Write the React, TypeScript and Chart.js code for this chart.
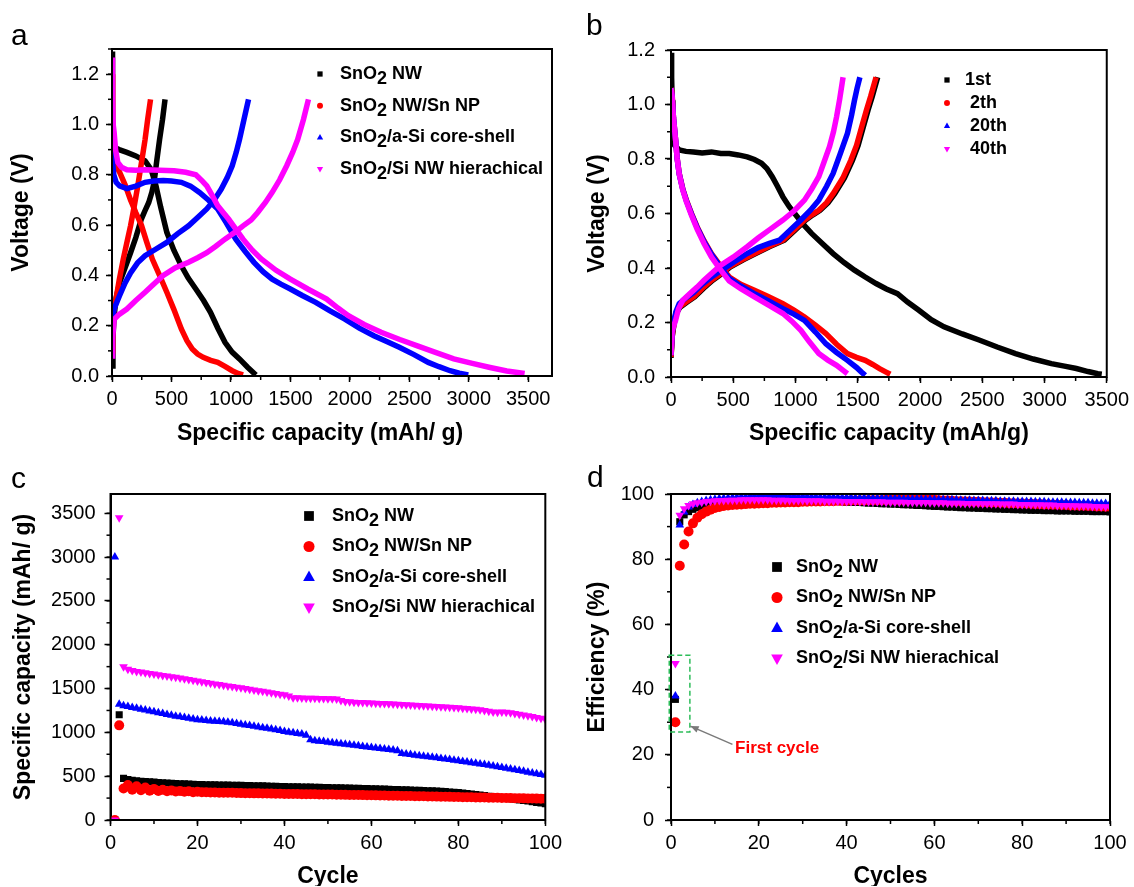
import React, { useEffect, useRef } from 'react';
import { Chart, registerables } from 'chart.js';

Chart.register(...registerables);

const FONT = "'Liberation Sans', Arial, Helvetica, sans-serif";
const BLACK = '#000000';
const RED = '#ff0000';
const BLUE = '#0000ff';
const MAGENTA = '#ff00ff';

type Pair = [number, number];

// ---------- Panel a : voltage profiles (x = mAh/g, y = V) ----------
const aNwDischarge: Pair[] = [[0,1.29],[3,1.1],[6,0.95],[12,0.91],[60,0.9],[125,0.889],[200,0.875],[278,0.855],[330,0.82],[370,0.756],[410,0.67],[461,0.571],[520,0.5],[583,0.438],[640,0.39],[705,0.346],[770,0.3],[828,0.253],[890,0.19],[950,0.134],[1010,0.095],[1072,0.068],[1140,0.035],[1210,0.004]];
const aNwCharge: Pair[] = [[2,0.04],[8,0.15],[18,0.24],[35,0.31],[64,0.372],[110,0.43],[156,0.49],[200,0.55],[247,0.624],[280,0.66],[309,0.69],[335,0.73],[354,0.77],[375,0.85],[400,0.94],[425,1.02],[446,1.1]];
const aNpDischarge: Pair[] = [[0,1.2],[3,1.0],[8,0.87],[30,0.84],[64,0.81],[110,0.76],[156,0.7],[200,0.65],[247,0.6],[290,0.535],[339,0.465],[400,0.4],[461,0.333],[520,0.265],[583,0.187],[630,0.14],[675,0.107],[720,0.087],[767,0.074],[830,0.062],[889,0.054],[950,0.038],[1011,0.021],[1060,0.01],[1102,0.004]];
const aNpCharge: Pair[] = [[2,0.1],[6,0.2],[15,0.26],[34,0.306],[60,0.38],[95,0.465],[125,0.53],[156,0.597],[185,0.67],[217,0.756],[245,0.84],[278,0.94],[300,1.02],[324,1.1]];
const aCsDischarge: Pair[] = [[0,0.9],[5,0.85],[15,0.8],[35,0.77],[64,0.756],[125,0.745],[200,0.755],[278,0.77],[350,0.775],[431,0.777],[500,0.775],[583,0.77],[660,0.755],[736,0.73],[810,0.7],[889,0.664],[960,0.61],[1041,0.544],[1120,0.495],[1194,0.452],[1270,0.415],[1347,0.385],[1420,0.365],[1500,0.346],[1600,0.32],[1713,0.293],[1830,0.26],[1958,0.226],[2080,0.19],[2202,0.16],[2310,0.137],[2416,0.114],[2540,0.085],[2660,0.054],[2750,0.037],[2843,0.021],[2920,0.011],[2996,0.004]];
const aCsCharge: Pair[] = [[0,0.22],[20,0.27],[64,0.32],[110,0.37],[156,0.41],[215,0.45],[278,0.478],[370,0.505],[461,0.531],[550,0.565],[644,0.597],[720,0.63],[797,0.664],[860,0.7],[919,0.743],[970,0.79],[1011,0.836],[1045,0.89],[1072,0.94],[1110,1.02],[1148,1.1]];
const aHiDischarge: Pair[] = [[0,1.266],[5,1.1],[10,1.0],[18,0.968],[30,0.9],[49,0.849],[80,0.83],[125,0.82],[200,0.818],[278,0.82],[400,0.818],[522,0.816],[620,0.81],[705,0.8],[760,0.775],[797,0.756],[840,0.72],[889,0.677],[935,0.65],[980,0.624],[1040,0.585],[1102,0.544],[1180,0.5],[1255,0.465],[1380,0.42],[1500,0.385],[1650,0.345],[1805,0.306],[1900,0.27],[1988,0.24],[2120,0.205],[2263,0.174],[2420,0.145],[2568,0.12],[2720,0.094],[2874,0.068],[3030,0.05],[3179,0.034],[3320,0.02],[3470,0.01]];
const aHiCharge: Pair[] = [[0,0.08],[5,0.15],[18,0.225],[60,0.245],[125,0.266],[200,0.3],[278,0.333],[350,0.365],[431,0.4],[530,0.43],[644,0.452],[720,0.47],[797,0.49],[870,0.515],[950,0.544],[1030,0.57],[1102,0.597],[1170,0.62],[1225,0.65],[1290,0.69],[1347,0.73],[1410,0.78],[1469,0.836],[1520,0.89],[1561,0.94],[1610,1.02],[1652,1.1]];

// ---------- Panel b : cycles of hierarchical electrode ----------
const b1stDischarge: Pair[] = [[0,1.19],[5,1.1],[9,1.016],[15,0.9],[30,0.85],[66,0.833],[120,0.828],[181,0.826],[250,0.822],[325,0.826],[400,0.82],[468,0.82],[540,0.815],[612,0.808],[670,0.798],[727,0.784],[770,0.765],[813,0.735],[855,0.7],[899,0.661],[950,0.625],[1014,0.588],[1070,0.556],[1129,0.527],[1215,0.49],[1302,0.453],[1390,0.42],[1474,0.392],[1560,0.367],[1647,0.343],[1730,0.323],[1819,0.306],[1900,0.275],[1991,0.245],[2090,0.21],[2193,0.184],[2340,0.158],[2480,0.135],[2620,0.11],[2767,0.086],[2910,0.066],[3055,0.049],[3160,0.04],[3256,0.031],[3350,0.02],[3428,0.012],[3460,0.01]];
const b1stCharge: Pair[] = [[0,0.07],[10,0.15],[25,0.196],[45,0.235],[70,0.255],[130,0.275],[190,0.294],[260,0.325],[335,0.355],[410,0.38],[478,0.404],[580,0.43],[680,0.453],[790,0.478],[910,0.502],[1000,0.54],[1082,0.576],[1140,0.595],[1197,0.612],[1262,0.64],[1315,0.673],[1393,0.73],[1458,0.796],[1503,0.85],[1545,0.918],[1583,0.98],[1616,1.029],[1660,1.1]];
const b2thDischarge: Pair[] = [[0,1.06],[9,1.04],[20,0.95],[37,0.87],[50,0.8],[66,0.747],[95,0.69],[124,0.649],[165,0.6],[210,0.551],[265,0.5],[325,0.453],[395,0.41],[468,0.367],[560,0.34],[670,0.318],[780,0.295],[899,0.269],[990,0.245],[1072,0.22],[1160,0.19],[1244,0.159],[1330,0.12],[1417,0.086],[1490,0.072],[1560,0.061],[1620,0.046],[1675,0.031],[1720,0.02],[1761,0.01]];
const b2thCharge: Pair[] = [[0,0.073],[10,0.15],[23,0.196],[40,0.235],[66,0.257],[120,0.275],[181,0.294],[250,0.325],[325,0.355],[400,0.38],[468,0.404],[570,0.43],[670,0.453],[780,0.478],[899,0.502],[990,0.54],[1072,0.576],[1130,0.595],[1187,0.612],[1250,0.64],[1302,0.673],[1380,0.73],[1445,0.796],[1490,0.85],[1532,0.918],[1570,0.98],[1603,1.029],[1647,1.1]];
const b20thDischarge: Pair[] = [[0,1.06],[9,1.03],[20,0.95],[37,0.87],[50,0.8],[66,0.745],[95,0.688],[124,0.646],[165,0.597],[210,0.548],[265,0.497],[325,0.45],[395,0.405],[468,0.362],[560,0.334],[670,0.306],[780,0.28],[899,0.251],[990,0.23],[1072,0.208],[1160,0.165],[1244,0.122],[1330,0.09],[1417,0.061],[1490,0.035],[1530,0.018],[1560,0.006]];
const b20thCharge: Pair[] = [[0,0.08],[10,0.16],[23,0.205],[40,0.24],[66,0.269],[120,0.29],[181,0.31],[250,0.34],[325,0.367],[400,0.39],[500,0.42],[612,0.453],[700,0.475],[790,0.49],[871,0.502],[960,0.54],[1043,0.576],[1120,0.612],[1187,0.649],[1250,0.7],[1302,0.747],[1360,0.82],[1417,0.894],[1450,0.96],[1474,1.016],[1495,1.06],[1517,1.1]];
const b40thDischarge: Pair[] = [[0,1.06],[9,1.03],[20,0.95],[37,0.87],[50,0.8],[66,0.745],[95,0.685],[124,0.643],[165,0.593],[210,0.543],[265,0.49],[325,0.44],[395,0.395],[468,0.352],[560,0.324],[670,0.294],[780,0.265],[899,0.233],[970,0.205],[1043,0.171],[1110,0.13],[1187,0.086],[1260,0.062],[1330,0.043],[1380,0.025],[1417,0.012]];
const b40thCharge: Pair[] = [[0,0.08],[10,0.17],[37,0.208],[60,0.25],[95,0.282],[150,0.305],[210,0.33],[265,0.355],[325,0.38],[400,0.41],[500,0.44],[612,0.478],[700,0.51],[790,0.54],[899,0.576],[990,0.61],[1072,0.649],[1130,0.69],[1187,0.735],[1230,0.79],[1273,0.845],[1305,0.9],[1330,0.955],[1355,1.02],[1382,1.1]];

// ---------- Panel c : capacity vs cycle (cycles 1..100) ----------
const cNw = [0,1200,475,462,452,447,443,440,436,432,428,425,422,419,416,414,412,410,407,405,404,403,402,401,400,399,398,397,396,395,394,392,391,390,389,388,386,385,383,381,380,379,378,377,376,375,374,372,371,370,369,368,367,366,364,363,361,360,358,356,355,353,352,350,349,347,346,344,342,340,338,336,334,332,330,327,324,320,316,312,307,302,296,290,284,278,272,266,260,254,248,242,236,230,223,216,209,201,193,185];
const cNp = [0,1080,360,400,345,385,340,370,335,355,330,345,328,338,325,332,322,328,318,322,316,318,314,315,312,312,310,310,308,307,306,305,304,304,303,302,301,300,299,298,297,297,296,295,294,294,293,292,291,290,290,289,288,287,286,286,285,284,283,282,281,280,279,278,277,276,275,274,273,272,271,270,269,268,267,266,265,264,263,262,261,260,259,258,257,256,255,254,253,252,251,250,249,248,247,246,245,244,243,242];
const cCs = [3000,1320,1305,1295,1285,1275,1265,1255,1245,1235,1225,1215,1205,1195,1185,1178,1170,1160,1152,1145,1140,1135,1130,1127,1124,1120,1115,1110,1100,1092,1085,1078,1070,1062,1054,1046,1038,1030,1020,1010,1002,995,988,980,968,915,905,900,895,888,882,876,870,864,858,852,846,840,834,828,822,816,810,804,798,790,760,752,746,740,734,728,722,716,710,703,696,689,682,675,668,661,654,647,640,632,624,616,608,600,591,582,573,564,555,546,537,528,519,510];
const cHi = [0,3450,1750,1720,1705,1695,1688,1680,1672,1665,1657,1650,1642,1635,1628,1620,1612,1604,1595,1585,1577,1569,1561,1553,1545,1538,1530,1523,1516,1508,1500,1492,1484,1476,1468,1460,1452,1444,1436,1428,1415,1396,1394,1392,1390,1389,1388,1387,1386,1385,1384,1380,1365,1352,1348,1345,1342,1340,1338,1335,1333,1330,1328,1326,1323,1320,1318,1315,1313,1310,1307,1304,1301,1298,1295,1292,1289,1286,1283,1280,1276,1272,1268,1264,1258,1250,1240,1232,1230,1232,1230,1224,1216,1207,1198,1189,1180,1170,1160,1150];

// ---------- Panel d : coulombic efficiency vs cycle ----------
const dNw = [37,91.5,93.6,94.6,95.3,95.8,96.3,96.7,97.0,97.3,97.5,97.7,97.8,97.9,98.0,98.1,98.2,98.2,98.3,98.3,98.3,98.3,98.2,98.3,98.2,98.2,98.1,98.2,98.1,98.0,98.0,98.0,97.9,97.9,97.8,97.8,97.7,97.7,97.6,97.5,97.5,97.4,97.4,97.3,97.2,97.2,97.1,97.0,97.0,96.9,96.9,96.8,96.7,96.7,96.6,96.5,96.5,96.4,96.3,96.2,96.2,96.1,96.0,96.0,95.9,95.8,95.8,95.7,95.7,95.6,95.6,95.5,95.5,95.4,95.4,95.3,95.3,95.2,95.2,95.1,95.1,95.0,95.0,95.0,94.9,94.9,94.9,94.8,94.8,94.8,94.8,94.7,94.7,94.7,94.7,94.6,94.6,94.6,94.6,94.5];
const dNp = [30,78,84.5,88.5,91.0,92.7,93.8,94.6,95.2,95.7,96.0,96.3,96.5,96.6,96.7,96.8,96.9,97.0,97.0,97.1,97.2,97.2,97.3,97.3,97.4,97.4,97.5,97.5,97.5,97.6,97.6,97.7,97.7,97.7,97.8,97.8,97.8,97.9,97.9,97.9,98.0,98.0,98.0,98.0,98.1,98.1,98.1,98.1,98.2,98.2,98.2,98.2,98.2,98.3,98.3,98.3,98.3,98.4,98.3,98.2,98.1,98.0,98.0,97.9,97.8,97.8,97.7,97.7,97.6,97.6,97.5,97.5,97.4,97.4,97.3,97.3,97.2,97.2,97.1,97.1,97.0,97.0,96.9,96.9,96.8,96.8,96.7,96.7,96.6,96.6,96.5,96.5,96.4,96.4,96.3,96.3,96.2,96.2,96.1,96.1];
const dCs = [38,90.5,94.5,96.0,96.8,97.3,97.7,98.0,98.2,98.4,98.6,98.7,98.8,98.9,99.0,99.1,99.1,99.2,99.3,99.3,99.4,99.4,99.5,99.7,99.4,99.3,99.3,99.2,99.2,99.2,99.1,99.1,99.1,99.0,99.0,99.0,99.0,98.9,98.9,98.9,98.9,98.8,98.8,98.8,98.8,98.7,98.7,98.7,98.7,98.6,98.6,98.6,98.5,98.5,98.5,98.5,98.4,98.4,98.4,98.3,98.3,98.3,98.2,98.2,98.2,98.1,98.1,98.1,98.0,98.0,98.0,97.9,97.9,97.9,97.8,97.8,97.8,97.8,97.7,97.7,97.7,97.7,97.6,97.6,97.6,97.5,97.5,97.5,97.5,97.4,97.4,97.4,97.3,97.3,97.3,97.2,97.2,97.1,97.1,97.0];
const dHi = [48,93.5,95.5,96.5,97.0,97.3,97.5,97.7,97.8,97.9,98.0,98.0,98.1,98.1,98.1,98.2,98.2,98.2,98.2,98.2,98.2,98.2,98.1,98.1,98.1,98.1,98.0,98.0,98.0,98.0,97.9,97.9,97.9,97.9,97.8,97.8,97.8,97.8,97.7,97.7,97.7,97.7,97.7,97.6,97.6,97.6,97.6,97.6,97.5,97.5,97.5,97.5,97.5,97.4,97.4,97.4,97.4,97.4,97.3,97.3,97.3,97.3,97.2,97.2,97.2,97.2,97.1,97.1,97.1,97.1,97.0,97.0,97.0,97.0,96.9,96.9,96.9,96.9,96.8,96.8,96.8,96.7,96.7,96.7,96.6,96.6,96.6,96.5,96.5,96.5,96.4,96.4,96.3,96.3,96.3,96.2,96.2,96.1,96.1,96.0];

// ---------- labels & ticks ----------
const seriesLabels = ['SnO2 NW', 'SnO2 NW/Sn NP', 'SnO2/a-Si core-shell', 'SnO2/Si NW hierachical'];
const cycleLabels = ['1st', ' 2th', ' 20th', ' 40th'];
const capTicks = [0, 500, 1000, 1500, 2000, 2500, 3000, 3500];
const voltTicks = [0, 0.2, 0.4, 0.6, 0.8, 1.0, 1.2];
const cycleTicks = [0, 20, 40, 60, 80, 100];
const effTicks = [0, 20, 40, 60, 80, 100];

const TITLE_SIZE = 23;
const tickFont = { family: FONT, size: 20 };
const titleFont = { family: FONT, size: TITLE_SIZE, weight: 'bold' as const };

const toXY = (pairs: Pair[]) => pairs.map(([x, y]) => ({ x, y }));
const byCycle = (vals: number[]) => vals.map((y, i) => ({ x: i + 1, y }));

function drawMarker(ctx: CanvasRenderingContext2D, style: string, rot: number, x: number, y: number, r: number, color: string) {
  ctx.fillStyle = color;
  ctx.beginPath();
  if (style === 'rect') {
    ctx.rect(x - r * 0.75, y - r * 0.75, r * 1.5, r * 1.5);
  } else if (style === 'circle') {
    ctx.arc(x, y, r * 0.85, 0, Math.PI * 2);
  } else {
    const s = rot === 180 ? -1 : 1;
    ctx.moveTo(x, y - s * r);
    ctx.lineTo(x + r * 0.9, y + s * r * 0.6);
    ctx.lineTo(x - r * 0.9, y + s * r * 0.6);
    ctx.closePath();
  }
  ctx.fill();
}

function drawSubText(ctx: CanvasRenderingContext2D, text: string, x: number, y: number, shift: number) {
  const i = text.indexOf('SnO2');
  if (i < 0) {
    ctx.fillText(text, x, y);
    return;
  }
  const before = text.slice(0, i + 3);
  const after = text.slice(i + 4);
  ctx.fillText(before, x, y);
  let cx = x + ctx.measureText(before).width;
  ctx.fillText('2', cx, y + shift);
  cx += ctx.measureText('2').width;
  ctx.fillText(after, cx, y);
}

const framePlugin = {
  id: 'frame',
  afterDraw(chart: any, _args: any, opts: any) {
    const { ctx, chartArea, scales } = chart;
    const { left, top, right, bottom } = chartArea;
    ctx.save();
    ctx.strokeStyle = '#000';
    ctx.lineWidth = 2;
    ctx.strokeRect(left, top, right - left, bottom - top);
    ctx.lineWidth = 1.5;
    const xs = scales.x;
    const ys = scales.y;
    if (opts.xMinor) {
      const n = Math.floor((xs.max - xs.min) / opts.xMinor + 1e-6);
      for (let k = 0; k <= n; k++) {
        const px = xs.getPixelForValue(xs.min + k * opts.xMinor);
        ctx.beginPath();
        ctx.moveTo(px, bottom);
        ctx.lineTo(px, bottom + 4);
        ctx.stroke();
      }
    }
    if (opts.yMinor) {
      const n = Math.floor((ys.max - ys.min) / opts.yMinor + 1e-6);
      for (let k = 0; k <= n; k++) {
        const py = ys.getPixelForValue(ys.min + k * opts.yMinor);
        ctx.beginPath();
        ctx.moveTo(left, py);
        ctx.lineTo(left - 4, py);
        ctx.stroke();
      }
    }
    if (opts.xTitle) {
      // x-axis title centred on a chosen value range (panel a: centred on 0..3500)
      ctx.font = `bold ${TITLE_SIZE}px ${FONT}`;
      ctx.fillStyle = '#000';
      ctx.textAlign = 'center';
      ctx.textBaseline = 'middle';
      const cx = (xs.getPixelForValue(opts.xTitleFrom) + xs.getPixelForValue(opts.xTitleTo)) / 2;
      ctx.fillText(opts.xTitle, cx, xs.bottom - (TITLE_SIZE * 1.2) / 2 + 4);
    }
    ctx.restore();
  },
};

const legendPlugin = {
  id: 'subLegend',
  afterDraw(chart: any, _args: any, opts: any) {
    if (!opts || !opts.show) return;
    const { ctx } = chart;
    const items = chart.data.datasets
      .filter((d: any) => d.legendIndex !== undefined)
      .sort((a: any, b: any) => a.legendIndex - b.legendIndex);
    ctx.save();
    ctx.font = `bold ${opts.fontSize}px ${FONT}`;
    ctx.textBaseline = 'middle';
    ctx.textAlign = 'left';
    items.forEach((d: any, i: number) => {
      const y = opts.y + i * opts.dy;
      drawMarker(ctx, d.pointStyle, d.pointRotation || 0, opts.markerX, y, opts.markerR, d.backgroundColor);
      ctx.fillStyle = '#000';
      drawSubText(ctx, d.label, opts.textX, y, 5);
    });
    ctx.restore();
  },
};

const notePlugin = {
  id: 'firstCycleNote',
  afterDraw(chart: any, _args: any, opts: any) {
    if (!opts || !opts.show) return;
    const { ctx, scales } = chart;
    const xs = scales.x;
    const ys = scales.y;
    const X = (v: number) => xs.getPixelForValue(v);
    const Y = (v: number) => ys.getPixelForValue(v);
    ctx.save();
    ctx.strokeStyle = '#2ebd5a';
    ctx.lineWidth = 1.5;
    ctx.setLineDash([5, 3]);
    const [bx0, by0, bx1, by1] = opts.box;
    ctx.strokeRect(X(bx0), Y(by1), X(bx1) - X(bx0), Y(by0) - Y(by1));
    ctx.setLineDash([]);
    const [ax0, ay0, ax1, ay1] = opts.arrow;
    const x0 = X(ax0), y0 = Y(ay0), x1 = X(ax1), y1 = Y(ay1);
    ctx.strokeStyle = '#7a7a7a';
    ctx.fillStyle = '#7a7a7a';
    ctx.lineWidth = 1.5;
    ctx.beginPath();
    ctx.moveTo(x0, y0);
    ctx.lineTo(x1, y1);
    ctx.stroke();
    const ang = Math.atan2(y1 - y0, x1 - x0);
    ctx.beginPath();
    ctx.moveTo(x1, y1);
    ctx.lineTo(x1 - 9 * Math.cos(ang - 0.4), y1 - 9 * Math.sin(ang - 0.4));
    ctx.lineTo(x1 - 9 * Math.cos(ang + 0.4), y1 - 9 * Math.sin(ang + 0.4));
    ctx.closePath();
    ctx.fill();
    ctx.font = `bold 17px ${FONT}`;
    ctx.fillStyle = RED;
    ctx.textBaseline = 'middle';
    ctx.textAlign = 'left';
    ctx.fillText(opts.text, X(opts.textAt[0]), Y(opts.textAt[1]));
    ctx.restore();
  },
};

function axis(min: number, max: number, majors: number[], fmt: (v: number) => string, title: string, fit: (s: any) => void, labelPad: number, showTitle = true) {
  return {
    type: 'linear' as const,
    min,
    max,
    afterBuildTicks: (s: any) => {
      s.ticks = majors.map((v) => ({ value: v }));
    },
    afterFit: fit,
    ticks: {
      font: tickFont,
      color: '#000',
      padding: labelPad,
      autoSkip: false,
      maxRotation: 0,
      callback: (v: any) => fmt(Number(v)),
    },
    grid: { display: true, drawOnChartArea: false, drawTicks: true, tickLength: 6, tickColor: '#000', tickWidth: 1.5 },
    border: { display: true, color: '#000', width: 2 },
    title: { display: showTitle, text: title, font: titleFont, color: '#000', padding: { top: 0, bottom: -4 } },
  };
}

function curveSet(label: string, color: string, pairs: Pair[], style: string, rot: number, order: number, legendIndex?: number) {
  return {
    label,
    data: toXY(pairs),
    showLine: true,
    borderColor: color,
    backgroundColor: color,
    borderWidth: 5.5,
    pointRadius: 0,
    pointHoverRadius: 0,
    pointStyle: style,
    pointRotation: rot,
    tension: 0,
    order,
    legendIndex,
  };
}

function pointSet(label: string, color: string, vals: number[], style: string, rot: number, order: number, legendIndex: number) {
  return {
    label,
    data: byCycle(vals),
    showLine: false,
    borderColor: color,
    backgroundColor: color,
    pointBackgroundColor: color,
    pointBorderWidth: 0,
    pointRadius: 5,
    pointHoverRadius: 5,
    pointStyle: style,
    pointRotation: rot,
    order,
    legendIndex,
  };
}

const fmt1 = (v: number) => v.toFixed(1);
const fmt0 = (v: number) => String(Math.round(v));

function baseOptions(pad: any, x: any, y: any, frame: any, legend: any, note: any) {
  return {
    responsive: false,
    animation: false as const,
    layout: { padding: pad },
    scales: { x, y },
    plugins: {
      legend: { display: false },
      tooltip: { enabled: false },
      frame,
      subLegend: legend,
      firstCycleNote: note,
    },
  };
}

// top-row canvases are taller than their 443 px slot so that descenders of the
// x-axis titles are not clipped; the extra bottom padding keeps the layout.
const TOP_H = 462;
const TOP_EXTRA = TOP_H - 443;

function configA() {
  return {
    type: 'scatter' as const,
    data: {
      datasets: [
        curveSet(seriesLabels[0], BLACK, aNwDischarge, 'rect', 0, 4, 0),
        curveSet(seriesLabels[0], BLACK, aNwCharge, 'rect', 0, 4),
        curveSet(seriesLabels[1], RED, aNpDischarge, 'circle', 0, 3, 1),
        curveSet(seriesLabels[1], RED, aNpCharge, 'circle', 0, 3),
        curveSet(seriesLabels[2], BLUE, aCsDischarge, 'triangle', 0, 2, 2),
        curveSet(seriesLabels[2], BLUE, aCsCharge, 'triangle', 0, 2),
        curveSet(seriesLabels[3], MAGENTA, aHiDischarge, 'triangle', 180, 1, 3),
        curveSet(seriesLabels[3], MAGENTA, aHiCharge, 'triangle', 180, 1),
      ],
    },
    options: baseOptions(
      { left: 8, top: 49, right: 15, bottom: TOP_EXTRA },
      axis(0, 3700, capTicks, fmt0, 'Specific capacity (mAh/ g)', (s: any) => { s.height = 67; }, 5, false),
      axis(0, 1.3, voltTicks, fmt1, 'Voltage (V)', (s: any) => { s.width = 104; }, 7),
      { xMinor: 250, yMinor: 0.1, xTitle: 'Specific capacity (mAh/ g)', xTitleFrom: 0, xTitleTo: 3500 },
      { show: true, markerX: 320, textX: 340, y: 74, dy: 31.7, markerR: 3.5, fontSize: 18 },
      { show: false }
    ),
  };
}

function configB() {
  return {
    type: 'scatter' as const,
    data: {
      datasets: [
        curveSet(cycleLabels[0], BLACK, b1stDischarge, 'rect', 0, 4, 0),
        curveSet(cycleLabels[0], BLACK, b1stCharge, 'rect', 0, 4),
        curveSet(cycleLabels[1], RED, b2thDischarge, 'circle', 0, 3, 1),
        curveSet(cycleLabels[1], RED, b2thCharge, 'circle', 0, 3),
        curveSet(cycleLabels[2], BLUE, b20thDischarge, 'triangle', 0, 2, 2),
        curveSet(cycleLabels[2], BLUE, b20thCharge, 'triangle', 0, 2),
        curveSet(cycleLabels[3], MAGENTA, b40thDischarge, 'triangle', 180, 1, 3),
        curveSet(cycleLabels[3], MAGENTA, b40thCharge, 'triangle', 180, 1),
      ],
    },
    options: baseOptions(
      { left: 17, top: 50, right: 24, bottom: TOP_EXTRA },
      axis(0, 3500, capTicks, fmt0, 'Specific capacity (mAh/g)', (s: any) => { s.height = 66; }, 5),
      axis(0, 1.2, voltTicks, fmt1, 'Voltage (V)', (s: any) => { s.width = 87; }, 10),
      { xMinor: 250, yMinor: 0.1 },
      { show: true, markerX: 380, textX: 398, y: 80, dy: 23, markerR: 3.5, fontSize: 18 },
      { show: false }
    ),
  };
}

function configC() {
  return {
    type: 'scatter' as const,
    data: {
      datasets: [
        pointSet(seriesLabels[0], BLACK, cNw, 'rect', 0, 4, 0),
        pointSet(seriesLabels[1], RED, cNp, 'circle', 0, 3, 1),
        pointSet(seriesLabels[2], BLUE, cCs, 'triangle', 0, 2, 2),
        pointSet(seriesLabels[3], MAGENTA, cHi, 'triangle', 180, 1, 3),
      ],
    },
    options: baseOptions(
      { left: 10, top: 51, right: 16, bottom: 0 },
      axis(0, 100, cycleTicks, fmt0, 'Cycle', (s: any) => { s.height = 66; }, 5),
      axis(0, 3720, capTicks, fmt0, 'Specific capacity (mAh/ g)', (s: any) => { s.width = 100.5; }, 9),
      { xMinor: 10, yMinor: 250 },
      { show: true, markerX: 309, textX: 332, y: 73, dy: 30.5, markerR: 6.5, fontSize: 18 },
      { show: false }
    ),
  };
}

function configD() {
  return {
    type: 'scatter' as const,
    data: {
      datasets: [
        pointSet(seriesLabels[0], BLACK, dNw, 'rect', 0, 4, 0),
        pointSet(seriesLabels[1], RED, dNp, 'circle', 0, 3, 1),
        pointSet(seriesLabels[2], BLUE, dCs, 'triangle', 0, 2, 2),
        pointSet(seriesLabels[3], MAGENTA, dHi, 'triangle', 180, 1, 3),
      ],
    },
    options: baseOptions(
      { left: 17, top: 51, right: 24, bottom: 0 },
      axis(0, 100, cycleTicks, fmt0, 'Cycles', (s: any) => { s.height = 66; }, 5),
      axis(0, 100, effTicks, fmt0, 'Efficiency (%)', (s: any) => { s.width = 87; }, 11),
      { xMinor: 10, yMinor: 10 },
      { show: true, markerX: 210, textX: 229, y: 124, dy: 30.5, markerR: 6.5, fontSize: 18 },
      { show: true, box: [-0.4, 27, 4.3, 50.5], arrow: [14, 23.2, 4.4, 28.8], text: 'First cycle', textAt: [14.6, 21.9] }
    ),
  };
}

function Panel({ make, left, top, height }: { make: () => any; left: number; top: number; height: number }) {
  const ref = useRef<HTMLCanvasElement | null>(null);
  useEffect(() => {
    if (!ref.current) return;
    const cfg = make();
    const chart = new Chart(ref.current, { ...cfg, plugins: [framePlugin, legendPlugin, notePlugin] });
    return () => chart.destroy();
  }, [make]);
  return (
    <canvas
      ref={ref}
      width={567}
      height={height}
      style={{ position: 'absolute', left, top, width: 567, height }}
    />
  );
}

const letterStyle = (left: number, top: number): React.CSSProperties => ({
  position: 'absolute',
  left,
  top,
  fontFamily: FONT,
  fontSize: 30,
  lineHeight: '30px',
  color: '#000',
});

export default function App() {
  return (
    <div style={{ position: 'absolute', left: 0, top: 0, width: 1134, height: 887, background: '#fff', overflow: 'hidden' }}>
      <Panel make={configA} left={0} top={0} height={TOP_H} />
      <Panel make={configB} left={567} top={0} height={TOP_H} />
      <Panel make={configC} left={0} top={443} height={443} />
      <Panel make={configD} left={567} top={443} height={443} />
      <div style={letterStyle(11, 20)}>a</div>
      <div style={letterStyle(586, 10)}>b</div>
      <div style={letterStyle(11, 463)}>c</div>
      <div style={letterStyle(587, 462)}>d</div>
    </div>
  );
}
